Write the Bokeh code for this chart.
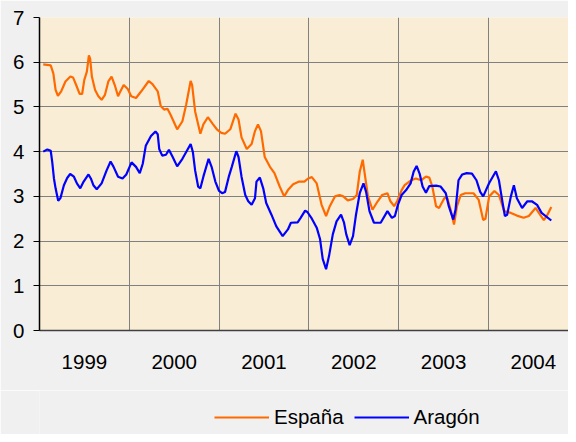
from bokeh.plotting import figure
from bokeh.models import Range1d, FixedTicker, Legend, LegendItem
from bokeh.layouts import column
from bokeh.embed import file_html
from bokeh.resources import INLINE

# ---- data (x = months since Jan 1999) ----
anios = ["1999", "2000", "2001", "2002", "2003", "2004"]
anio_centro = [6, 18, 30, 42, 54, 66]
limites_anio = [12, 24, 36, 48, 60]

espana_mes = [0.5, 1.5, 1.85, 2.15, 2.46, 2.9, 3.47, 4.13, 4.48, 4.9, 5.36, 5.7, 5.98, 6.33, 6.6, 6.77,
              7.0, 7.43, 7.87, 8.3, 8.75, 9.2, 9.63, 10.06, 10.5, 10.7, 11.25, 11.8, 12.26, 12.9, 13.6,
              14.6, 15.1, 15.8, 16.2, 16.65, 17.1, 17.5, 18.4, 19.1, 19.6, 20.2, 20.4, 20.8, 21.5, 21.9,
              22.5, 23.2, 23.7, 24.3, 24.8, 25.5, 26.2, 26.6, 27.0, 27.7, 28.35, 28.8, 29.2, 29.6, 30.1,
              30.8, 31.4, 32.1, 32.7, 33.2, 33.9, 34.7, 35.4, 35.9, 36.4, 37.05, 37.7, 38.3, 38.8, 39.5,
              40.1, 40.6, 41.2, 41.9, 42.4, 42.8, 43.2, 43.4, 43.9, 44.5, 45.2, 45.8, 46.5, 46.9, 47.4,
              47.8, 48.4, 48.8, 49.7, 50.3, 51.0, 51.65, 52.1, 52.5, 53.0, 53.4, 54.1, 54.5, 54.95, 55.4,
              55.8, 56.3, 56.9, 58.0, 58.7, 59.3, 59.6, 60.1, 60.8, 61.4, 62.1, 63.0, 63.8, 64.7, 65.4,
              66.3, 66.9, 67.4, 67.8, 68.4]
espana_val = [5.95, 5.93, 5.75, 5.38, 5.25, 5.35, 5.57, 5.68, 5.66, 5.49, 5.29, 5.29, 5.6, 5.79, 6.15, 6.08,
              5.68, 5.38, 5.24, 5.16, 5.27, 5.57, 5.68, 5.49, 5.24, 5.31, 5.49, 5.4, 5.24, 5.2, 5.35,
              5.58, 5.51, 5.35, 5.02, 4.94, 4.96, 4.83, 4.5, 4.68, 5.05, 5.58, 5.49, 4.9, 4.4, 4.61,
              4.77, 4.61, 4.5, 4.42, 4.4, 4.5, 4.85, 4.72, 4.32, 4.06, 4.17, 4.46, 4.61, 4.46, 3.88,
              3.66, 3.52, 3.22, 3.0, 3.14, 3.27, 3.33, 3.33, 3.4, 3.43, 3.29, 2.81, 2.56, 2.78, 3.0,
              3.03, 3.0, 2.91, 2.94, 3.03, 3.55, 3.82, 3.58, 3.0, 2.7, 2.89, 3.03, 3.07, 2.89, 2.78,
              2.89, 3.14, 3.25, 3.36, 3.4, 3.36, 3.44, 3.42, 3.22, 2.78, 2.74, 2.96, 2.96, 2.7, 2.37,
              2.78, 3.03, 3.07, 3.07, 2.92, 2.47, 2.5, 3.0, 3.12, 3.03, 2.67, 2.63, 2.57, 2.52, 2.56,
              2.74, 2.59, 2.47, 2.56, 2.76]

aragon_mes = [0.5, 1.05, 1.5, 1.7, 1.93, 2.15, 2.5, 2.8, 3.26, 3.7, 4.1, 4.6, 5.0, 5.45, 5.9, 6.55, 6.86,
              7.2, 7.65, 8.3, 8.97, 9.5, 9.9, 10.5, 11.1, 11.6, 12.3, 12.9, 13.4, 13.8, 14.2, 14.9, 15.5,
              15.8, 16.0, 16.4, 16.9, 17.3, 17.8, 18.4, 19.1, 19.7, 20.2, 20.5, 20.8, 21.2, 21.5, 21.9,
              22.6, 23.0, 23.5, 24.0, 24.4, 24.8, 25.3, 25.7, 26.3, 26.6, 27.0, 27.5, 27.9, 28.35, 28.8,
              29.0, 29.45, 29.9, 30.3, 31.0, 31.65, 32.5, 33.2, 33.6, 34.5, 34.9, 35.5, 35.8, 36.4, 37.05,
              37.5, 37.85, 38.3, 38.7, 39.2, 39.7, 40.3, 40.7, 41.0, 41.45, 41.9, 42.3, 42.8, 43.3, 43.65,
              44.1, 44.7, 45.6, 46.5, 47.1, 47.5, 47.9, 48.4, 49.0, 49.6, 50.0, 50.4, 50.8, 51.2, 51.65,
              52.1, 53.0, 53.6, 54.3, 54.7, 55.3, 55.6, 56.0, 56.5, 57.1, 57.8, 58.4, 58.9, 59.3, 60.1,
              61.0, 61.4, 61.9, 62.2, 62.5, 63.0, 63.4, 63.8, 64.5, 65.2, 65.8, 66.5, 67.1, 68.4]
aragon_val = [4.0, 4.05, 4.02, 3.77, 3.4, 3.18, 2.9, 2.96, 3.25, 3.41, 3.5, 3.44, 3.29, 3.18, 3.33, 3.49, 3.4,
              3.25, 3.16, 3.29, 3.58, 3.78, 3.66, 3.44, 3.4, 3.49, 3.76, 3.66, 3.52, 3.73, 4.13, 4.35, 4.45,
              4.39, 4.06, 3.91, 3.93, 4.04, 3.88, 3.67, 3.84, 4.02, 4.17, 3.99, 3.58, 3.22, 3.18, 3.44,
              3.84, 3.66, 3.33, 3.12, 3.07, 3.1, 3.44, 3.66, 4.01, 3.88, 3.44, 3.03, 2.89, 2.81, 2.96,
              3.33, 3.42, 3.18, 2.85, 2.59, 2.33, 2.11, 2.26, 2.41, 2.42, 2.52, 2.68, 2.65, 2.5, 2.3,
              2.04, 1.6, 1.37, 1.67, 2.15, 2.44, 2.59, 2.41, 2.15, 1.91, 2.11, 2.59, 3.07, 3.29, 3.1,
              2.67, 2.41, 2.41, 2.67, 2.52, 2.56, 2.81, 3.03, 3.14, 3.29, 3.55, 3.68, 3.51, 3.22, 3.08,
              3.23, 3.24, 3.22, 3.07, 2.78, 2.48, 2.7, 3.36, 3.49, 3.52, 3.51, 3.36, 3.1, 3.0, 3.3,
              3.56, 3.36, 2.85, 2.56, 2.59, 3.0, 3.25, 2.96, 2.74, 2.89, 2.89, 2.81, 2.63, 2.46]

series_nombres = ["España", "Aragón"]
series_colores = ["#ff6a00", "#0000ff"]
series_mes = [espana_mes, aragon_mes]
series_val = [espana_val, aragon_val]

y_ticks = [0, 1, 2, 3, 4, 5, 6, 7]

FONT = "Liberation Sans"
FS = "20.5px"
BG = "#f0f0f0"

p = figure(frame_width=529, frame_height=313,
           output_backend="svg", toolbar_location=None,
           x_range=Range1d(0, 70.7), y_range=Range1d(0, 7),
           min_border_left=39, min_border_top=17, min_border_right=0, min_border_bottom=60,
           background_fill_color="#f9edd5", border_fill_color=BG, outline_line_color=None)

for m, v, c in zip(series_mes, series_val, series_colores):
    p.line(m, v, line_color=c, line_width=2.2)

# x axis: year labels centred in each year, grid at year limits
p.xaxis.ticker = FixedTicker(ticks=anio_centro)
p.xaxis.major_label_overrides = {c: a for c, a in zip(anio_centro, anios)}
p.xaxis.major_tick_out = 0
p.xaxis.major_tick_in = 0
p.xaxis.minor_tick_out = 0
p.xaxis.minor_tick_in = 0
p.xaxis.axis_line_color = "#404040"
p.xaxis.axis_line_width = 1.5
p.xaxis.major_label_standoff = 24
p.xaxis.major_label_text_font = FONT
p.xaxis.major_label_text_font_size = FS
p.xaxis.major_label_text_color = "black"
p.xgrid.ticker = FixedTicker(ticks=limites_anio)
p.xgrid.grid_line_color = "#808080"
p.xgrid.grid_line_width = 1

# y axis
p.yaxis.ticker = FixedTicker(ticks=y_ticks)
p.yaxis.major_tick_out = 6
p.yaxis.major_tick_in = 0
p.yaxis.minor_tick_out = 0
p.yaxis.minor_tick_in = 0
p.yaxis.axis_line_color = "black"
p.yaxis.axis_line_width = 1.5
p.yaxis.major_tick_line_color = "black"
p.yaxis.major_label_standoff = 9
p.yaxis.major_label_text_font = FONT
p.yaxis.major_label_text_font_size = FS
p.yaxis.major_label_text_color = "black"
p.ygrid.ticker = FixedTicker(ticks=y_ticks)
p.ygrid.grid_line_color = "#808080"
p.ygrid.grid_line_width = 1

# legend strip below the chart (its line renderers fall outside this strip's ranges)
leg = figure(width=568, height=44, output_backend="svg", toolbar_location=None,
             x_axis_type=None, y_axis_type=None,
             x_range=Range1d(0, 1), y_range=Range1d(0, 1),
             min_border=0, min_border_left=0, min_border_right=0,
             min_border_top=0, min_border_bottom=0,
             background_fill_color=BG, border_fill_color=BG, outline_line_color=None)
leg.grid.visible = False
items = []
for nombre, color, m, v in zip(series_nombres, series_colores, series_mes, series_val):
    r = leg.line(m, v, line_color=color, line_width=2.2)
    items.append(LegendItem(label=nombre, renderers=[r]))

legend = Legend(items=items, location=(175, 5), orientation="horizontal",
                border_line_color=None, background_fill_alpha=0,
                glyph_width=55, glyph_height=20, label_standoff=5, spacing=10,
                padding=0, margin=0, label_text_font=FONT, label_text_font_size=FS,
                label_text_color="black")
leg.add_layout(legend, "center")

layout = column(p, leg, spacing=0)

open("out.html", "w").write(file_html(layout, INLINE))
